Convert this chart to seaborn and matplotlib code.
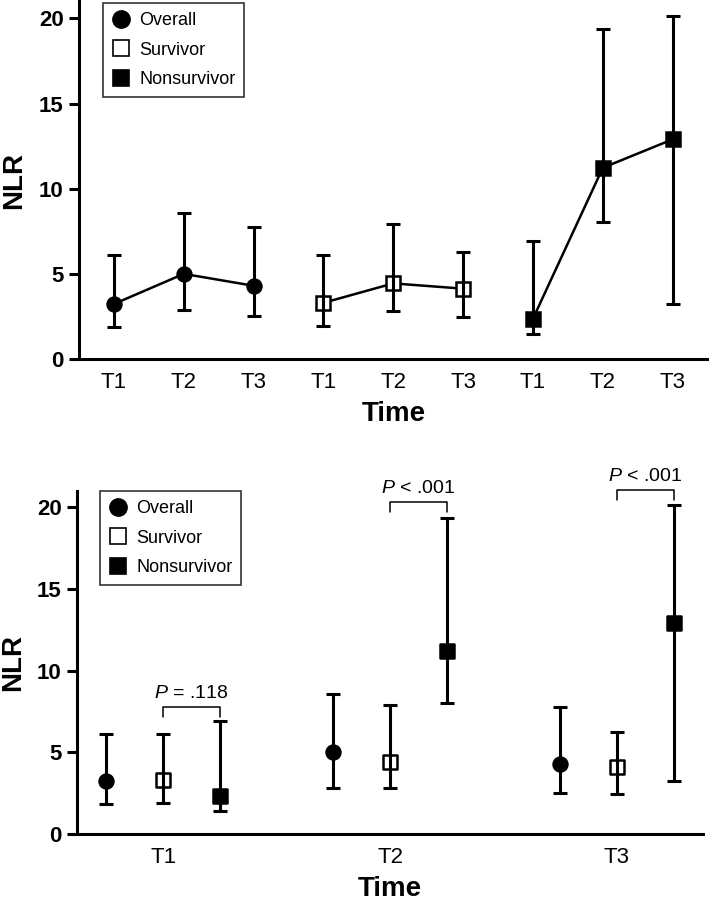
import numpy as np
import pandas as pd
import seaborn as sns
import matplotlib
matplotlib.use("Agg")
import matplotlib.pyplot as plt
from matplotlib.lines import Line2D

sns.set_style("ticks")
plt.rcParams['font.family'] = ['Liberation Sans', 'DejaVu Sans']
plt.rcParams['mathtext.fontset'] = 'custom'
plt.rcParams['mathtext.it'] = 'Liberation Sans:italic'
plt.rcParams['mathtext.rm'] = 'Liberation Sans'
for k in ['text.color', 'axes.labelcolor', 'xtick.color', 'ytick.color', 'axes.edgecolor']:
    plt.rcParams[k] = 'black'

# ---- data ----
groups = ["Overall", "Survivor", "Nonsurvivor"]
times = ["T1", "T2", "T3"]
overall_mean = [3.23, 5.00, 4.30]
overall_lo = [1.86, 2.86, 2.54]
overall_hi = [6.10, 8.60, 7.77]
surv_mean = [3.30, 4.44, 4.13]
surv_lo = [1.92, 2.80, 2.48]
surv_hi = [6.10, 7.93, 6.26]
nons_mean = [2.37, 11.23, 12.90]
nons_lo = [1.45, 8.03, 3.25]
nons_hi = [6.93, 19.36, 20.14]
p_labels = ["$P$ = .118", "$P$ < .001", "$P$ < .001"]

rows = []
for g, m, lo, hi in zip(groups, [overall_mean, surv_mean, nons_mean],
                        [overall_lo, surv_lo, nons_lo], [overall_hi, surv_hi, nons_hi]):
    for t, mm, l, h in zip(times, m, lo, hi):
        rows.append(dict(group=g, time=t, mean=mm, lo=l, hi=h))
df = pd.DataFrame(rows)
df["gi"] = df["group"].map({g: i for i, g in enumerate(groups)})
df["ti"] = df["time"].map({t: i for i, t in enumerate(times)})

style = {
    "Overall": dict(marker="o", mfc="black", ms=10, zerr=3),
    "Survivor": dict(marker="s", mfc="white", ms=9.5, zerr=4),
    "Nonsurvivor": dict(marker="s", mfc="black", ms=9.5, zerr=3),
}

fig = plt.figure(figsize=(7.09, 9.01), dpi=100)
W, H = 709, 901
ax1 = fig.add_axes([79 / W, 1 - 359 / H, (709 - 79) / W, 357.6 / H])
ax2 = fig.add_axes([77 / W, 1 - 834.3 / H, (703 - 77) / W, (834.3 - 490.7) / H])

lw_err = 2.2

def style_axes(ax, lx):
    sns.despine(ax=ax)
    for s in ["left", "bottom"]:
        ax.spines[s].set_linewidth(2.2)
    ax.set_ylim(0, 21)
    ax.set_yticks([0, 5, 10, 15, 20])
    ax.tick_params(axis="y", length=7, width=2.2, labelsize=16, pad=4)
    ax.tick_params(axis="x", length=0, labelsize=16, pad=9)
    for lab in ax.get_yticklabels():
        lab.set_fontweight("bold")
    ax.set_ylabel("NLR", fontsize=20, fontweight="bold", va="center")
    ax.yaxis.set_label_coords(lx, 0.5)
    ax.set_xlabel("Time", fontsize=20, fontweight="bold", labelpad=6)

# ---- top panel ----
for g in groups:
    sub = df[df.group == g].copy()
    sub["pos"] = sub["gi"] * 3 + sub["ti"]
    st = style[g]
    ax1.errorbar(sub["pos"], sub["mean"], yerr=[sub["mean"] - sub["lo"], sub["hi"] - sub["mean"]],
                 fmt="none", ecolor="black", elinewidth=lw_err, capsize=4.8, capthick=lw_err,
                 zorder=st["zerr"])
    sns.lineplot(data=sub, x="pos", y="mean", ax=ax1, color="black", lw=1.8,
                 marker=st["marker"], markersize=st["ms"], markerfacecolor=st["mfc"],
                 markeredgecolor="black", markeredgewidth=1.8, zorder=3.5 if g == "Survivor" else 3.6,
                 legend=False)
ax1.set_xlim(-0.5, 8.52)
ax1.set_xticks(range(9))
ax1.set_xticklabels(times * 3)
style_axes(ax1, (14 - 79) / 630)

# ---- bottom panel ----
offs = {"Overall": -0.25, "Survivor": 0.0, "Nonsurvivor": 0.25}
for g in groups:
    sub = df[df.group == g].copy()
    sub["pos"] = sub["ti"] + offs[g]
    st = style[g]
    ax2.errorbar(sub["pos"], sub["mean"], yerr=[sub["mean"] - sub["lo"], sub["hi"] - sub["mean"]],
                 fmt="none", ecolor="black", elinewidth=lw_err, capsize=5.3, capthick=lw_err,
                 zorder=st["zerr"])
    sns.scatterplot(data=sub, x="pos", y="mean", ax=ax2, color=st["mfc"], marker=st["marker"],
                    s=st["ms"] ** 2, edgecolor="black", linewidth=1.8, zorder=3.5, legend=False)
ax2.set_xlim(-0.38, 2.38)
ax2.set_xticks(range(3))
ax2.set_xticklabels(times)
style_axes(ax2, (13 - 77) / 626)

# P-value brackets
br_y = [7.77, 20.3, 21.06]
for ti in range(3):
    x1, x2 = ti + offs["Survivor"], ti + offs["Nonsurvivor"]
    yb = br_y[ti]
    ax2.plot([x1, x1, x2, x2], [yb - 0.6, yb, yb, yb - 0.6], color="black", lw=1.1, clip_on=False)
    ax2.text((x1 + x2) / 2, yb + 0.3, p_labels[ti], ha="center", va="bottom", fontsize=14,
             clip_on=False)

# legends
handles = [
    Line2D([], [], ls="none", marker="o", mfc="black", mec="black", ms=12.5),
    Line2D([], [], ls="none", marker="s", mfc="white", mec="black", ms=12, mew=1.2),
    Line2D([], [], ls="none", marker="s", mfc="black", mec="black", ms=12, mew=1.2),
]
for anchor in [(103 / W, 1 - 3 / H), (100 / W, 1 - 491 / H)]:
    leg = fig.legend(handles, groups, loc="upper left", bbox_to_anchor=anchor,
                     bbox_transform=fig.transFigure, frameon=True, fancybox=False,
                     edgecolor="black", fontsize=13, handlelength=1.0, handletextpad=0.5,
                     labelspacing=0.7, borderpad=0.5, borderaxespad=0)
    leg.get_frame().set_linewidth(1.2)

fig.savefig("out.png", dpi=100)
